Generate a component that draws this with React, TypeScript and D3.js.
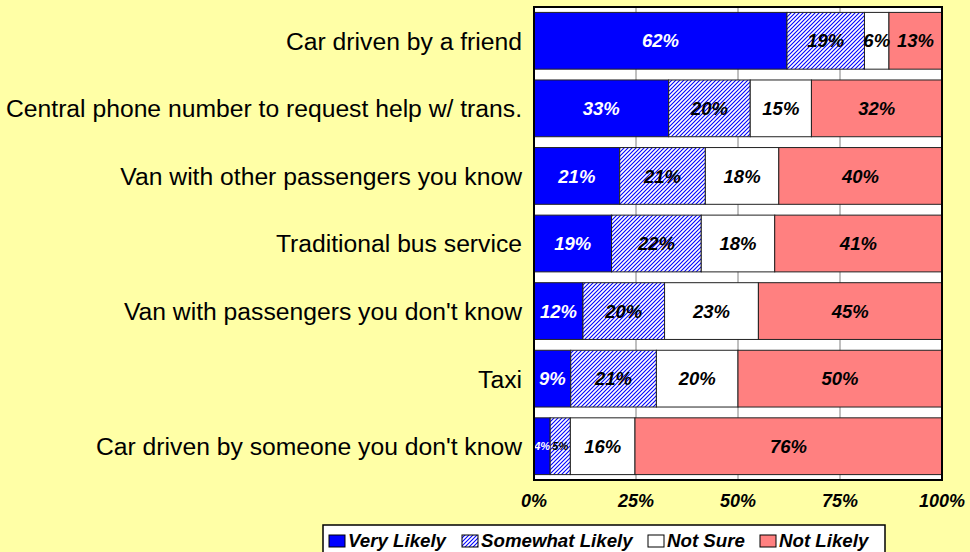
import React from "react";
import * as d3 from "d3";

const categories = [
  "Car driven by a friend",
  "Central phone number to request help w/ trans.",
  "Van with other passengers you know",
  "Traditional bus service",
  "Van with passengers you don't know",
  "Taxi",
  "Car driven by someone you don't know",
];
const seriesNames = ["Very Likely", "Somewhat Likely", "Not Sure", "Not Likely"];
const veryLikely = [62, 33, 21, 19, 12, 9, 4];
const somewhatLikely = [19, 20, 21, 22, 20, 21, 5];
const notSure = [6, 15, 18, 18, 23, 20, 16];
const notLikely = [13, 32, 40, 41, 45, 50, 76];
const tickValues = [0, 0.25, 0.5, 0.75, 1];

const W = 970;
const H = 552;
const FONT = "'Liberation Sans', Arial, Helvetica, sans-serif";
const BG = "#FFFFA6";
const fills = ["#0000FF", "url(#hatch)", "#FFFFFF", "#FF8080"];
const labelColors = ["#FFFFFF", "#000000", "#000000", "#000000"];

export default function App() {
  const rows = categories.map((c, i) => ({
    cat: c,
    s0: veryLikely[i],
    s1: somewhatLikely[i],
    s2: notSure[i],
    s3: notLikely[i],
  }));
  const keys = ["s0", "s1", "s2", "s3"];
  const stacked = d3.stack<any>().keys(keys).offset(d3.stackOffsetExpand)(rows);

  const left = 534, right = 942, top = 7, bottom = 480;
  const x = d3.scaleLinear().domain([0, 1]).range([left, right]);
  const y = d3
    .scaleBand<string>()
    .domain(categories)
    .range([top, bottom])
    .paddingInner(0.16)
    .paddingOuter(0.08);

  const legendItems = [
    { name: seriesNames[0], sx: 329, i: 0 },
    { name: seriesNames[1], sx: 462, i: 1 },
    { name: seriesNames[2], sx: 648, i: 2 },
    { name: seriesNames[3], sx: 760, i: 3 },
  ];

  return (
    <div style={{ position: "absolute", left: 0, top: 0, width: W, height: H, overflow: "hidden" }}>
      <svg width={W} height={H} style={{ display: "block" }}>
        <defs>
          <pattern id="hatch" patternUnits="userSpaceOnUse" width={4} height={4}>
            <rect width={4} height={4} fill="#FFFFFF" />
            <path d="M-1,1 l2,-2 M0,4 l4,-4 M3,5 l2,-2" stroke="#0000FF" strokeWidth={1.1} />
          </pattern>
        </defs>
        <rect x={0} y={0} width={W} height={H} fill={BG} />
        {/* plot area */}
        <rect x={left} y={top} width={right - left} height={bottom - top} fill="#FFFFFF" />
        {tickValues.slice(1, -1).map((t) => (
          <line key={t} x1={x(t)} x2={x(t)} y1={top} y2={bottom} stroke="#808080" strokeWidth={1} />
        ))}
        {/* bars */}
        {stacked.map((layer, si) => (
          <g key={si}>
            {layer.map((d, ri) => {
              const cat = categories[ri];
              const x0 = x(d[0]);
              const x1 = x(d[1]);
              const yy = y(cat)!;
              return (
                <rect
                  key={ri}
                  x={x0}
                  y={yy}
                  width={x1 - x0}
                  height={y.bandwidth()}
                  fill={fills[si]}
                  stroke="#222222"
                  strokeWidth={1}
                />
              );
            })}
          </g>
        ))}
        {/* bar labels */}
        {stacked.map((layer, si) => (
          <g key={"l" + si}>
            {layer.map((d, ri) => {
              const cat = categories[ri];
              const x0 = x(d[0]);
              const x1 = x(d[1]);
              const w = x1 - x0;
              const val = (rows[ri] as any)[keys[si]];
              const fs = w < 22 ? 11 : 18.5;
              return (
                <text
                  key={ri}
                  x={(x0 + x1) / 2}
                  y={y(cat)! + y.bandwidth() / 2}
                  dy="0.36em"
                  textAnchor="middle"
                  fontFamily={FONT}
                  fontWeight="bold"
                  fontStyle="italic"
                  fontSize={fs}
                  fill={labelColors[si]}
                >
                  {val + "%"}
                </text>
              );
            })}
          </g>
        ))}
        {/* frame */}
        <rect x={left} y={top} width={right - left} height={bottom - top} fill="none" stroke="#000000" strokeWidth={2} />
        {/* category labels */}
        {categories.map((c) => (
          <text
            key={c}
            x={522}
            y={y(c)! + y.bandwidth() / 2}
            dy="0.36em"
            textAnchor="end"
            fontFamily={FONT}
            fontSize={24.7}
            fill="#000000"
          >
            {c}
          </text>
        ))}
        {/* value axis tick labels */}
        {tickValues.map((t) => (
          <text
            key={"t" + t}
            x={x(t)}
            y={507}
            textAnchor="middle"
            fontFamily={FONT}
            fontWeight="bold"
            fontStyle="italic"
            fontSize={18}
            fill="#000000"
          >
            {d3.format(".0%")(t)}
          </text>
        ))}
        {/* legend */}
        <rect x={323} y={525} width={562} height={40} fill="#FFFFFF" stroke="#000000" strokeWidth={1.5} />
        {legendItems.map((it) => (
          <g key={it.name}>
            <rect x={it.sx} y={535} width={16} height={12} fill={fills[it.i]} stroke="#000000" strokeWidth={1} />
            <text
              x={it.sx + 19}
              y={547}
              fontFamily={FONT}
              fontWeight="bold"
              fontStyle="italic"
              fontSize={18.7}
              fill="#000000"
            >
              {it.name}
            </text>
          </g>
        ))}
      </svg>
    </div>
  );
}
